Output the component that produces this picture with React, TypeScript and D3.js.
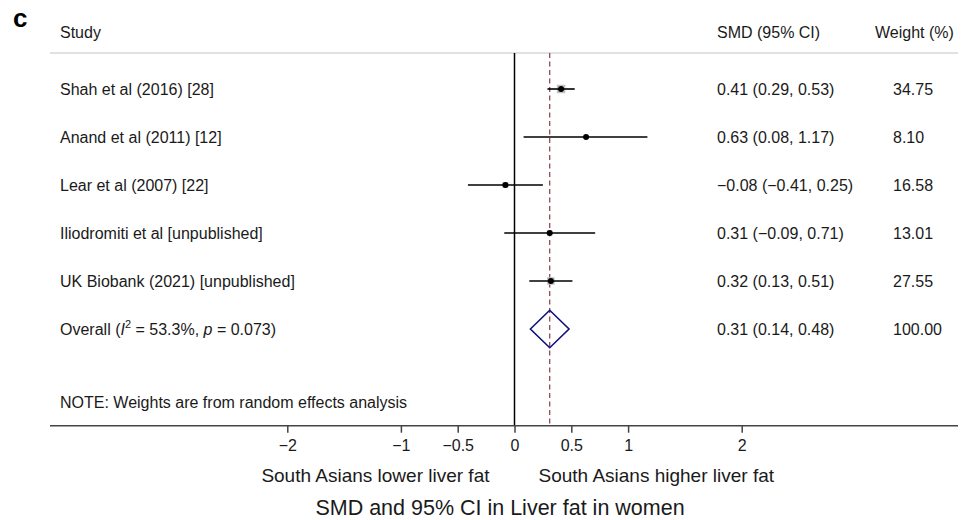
import React, { useEffect, useRef } from 'react'
import * as d3 from 'd3'

const W = 972
const H = 520

const studies = [
  'Shah et al (2016) [28]',
  'Anand et al (2011) [12]',
  'Lear et al (2007) [22]',
  'Iliodromiti et al [unpublished]',
  'UK Biobank (2021) [unpublished]'
]
const smd = [0.41, 0.63, -0.08, 0.31, 0.32]
const ciLow = [0.29, 0.08, -0.41, -0.09, 0.13]
const ciHigh = [0.53, 1.17, 0.25, 0.71, 0.51]
const weights = [34.75, 8.1, 16.58, 13.01, 27.55]
const smdLabels = [
  '0.41 (0.29, 0.53)',
  '0.63 (0.08, 1.17)',
  '\u22120.08 (\u22120.41, 0.25)',
  '0.31 (\u22120.09, 0.71)',
  '0.32 (0.13, 0.51)'
]
const weightLabels = ['34.75', '8.10', '16.58', '13.01', '27.55']

const overallSmd = 0.31
const overallLow = 0.14
const overallHigh = 0.48
const overallSmdLabel = '0.31 (0.14, 0.48)'
const overallWeightLabel = '100.00'

const tickValues = [-2, -1, -0.5, 0, 0.5, 1, 2]

const font = '"Liberation Sans", Arial, Helvetica, sans-serif'

export default function App() {
  const node = useRef<SVGSVGElement>(null)

  useEffect(() => {
    const svg = d3.select(node.current)
    svg.selectAll('*').remove()

    const x = d3.scaleLinear().domain([-2, 2]).range([287.3, 741.7])
    const y = d3.scaleLinear().domain([0, 5]).range([89, 329])
    const headerY = 32
    const topLine = 53
    const axisY = 425.7

    const g = svg.append('g').attr('font-family', font).attr('fill', '#1a1a1a')

    // panel letter
    g.append('text')
      .attr('x', 13).attr('y', 27)
      .attr('font-size', 26).attr('font-weight', 'bold')
      .attr('fill', '#000')
      .text('c')

    // headers
    const headers = [
      { t: 'Study', x: 60 },
      { t: 'SMD (95% CI)', x: 717 },
      { t: 'Weight (%)', x: 875 }
    ]
    g.selectAll('text.head')
      .data(headers)
      .join('text')
      .attr('class', 'head')
      .attr('x', d => d.x)
      .attr('y', headerY)
      .attr('dy', '0.35em')
      .attr('font-size', 16)
      .text(d => d.t)

    g.append('line')
      .attr('x1', 50).attr('x2', 958)
      .attr('y1', topLine).attr('y2', topLine)
      .attr('stroke', '#c4c4c4').attr('stroke-width', 1.2)

    // null line and overall line
    g.append('line')
      .attr('x1', x(0)).attr('x2', x(0))
      .attr('y1', topLine).attr('y2', axisY)
      .attr('stroke', '#000').attr('stroke-width', 1.5)

    g.append('line')
      .attr('x1', x(overallSmd)).attr('x2', x(overallSmd))
      .attr('y1', topLine).attr('y2', axisY)
      .attr('stroke', '#8b3a44').attr('stroke-width', 1.2)
      .attr('stroke-dasharray', '5,3.5')

    const rows = studies.map((s, i) => ({
      s, m: smd[i], lo: ciLow[i], hi: ciHigh[i], w: weights[i],
      ml: smdLabels[i], wl: weightLabels[i], i
    }))

    // study labels
    g.selectAll('text.study')
      .data(rows)
      .join('text')
      .attr('class', 'study')
      .attr('x', 60)
      .attr('y', d => y(d.i))
      .attr('dy', '0.35em')
      .attr('font-size', 16)
      .text(d => d.s)

    g.selectAll('text.smd')
      .data(rows)
      .join('text')
      .attr('class', 'smd')
      .attr('x', 717)
      .attr('y', d => y(d.i))
      .attr('dy', '0.35em')
      .attr('font-size', 16)
      .text(d => d.ml)

    g.selectAll('text.wt')
      .data(rows)
      .join('text')
      .attr('class', 'wt')
      .attr('x', 893)
      .attr('y', d => y(d.i))
      .attr('dy', '0.35em')
      .attr('font-size', 16)
      .text(d => d.wl)

    // weight boxes
    const box = d3.scaleSqrt().domain([0, 34.75]).range([0, 8.5])
    g.selectAll('rect.box')
      .data(rows)
      .join('rect')
      .attr('class', 'box')
      .attr('x', d => x(d.m) - box(d.w) / 2)
      .attr('y', d => y(d.i) - box(d.w) / 2)
      .attr('width', d => box(d.w))
      .attr('height', d => box(d.w))
      .attr('fill', '#c2c2c2')

    g.selectAll('line.ci')
      .data(rows)
      .join('line')
      .attr('class', 'ci')
      .attr('x1', d => x(d.lo)).attr('x2', d => x(d.hi))
      .attr('y1', d => y(d.i)).attr('y2', d => y(d.i))
      .attr('stroke', '#000').attr('stroke-width', 1.6)

    g.selectAll('circle.pt')
      .data(rows)
      .join('circle')
      .attr('class', 'pt')
      .attr('cx', d => x(d.m))
      .attr('cy', d => y(d.i))
      .attr('r', 3)
      .attr('fill', '#000')

    // overall
    const oy = y(5)
    const dh = 18.7
    g.append('path')
      .attr('d', `M${x(overallLow)},${oy} L${x(overallSmd)},${oy - dh} L${x(overallHigh)},${oy} L${x(overallSmd)},${oy + dh} Z`)
      .attr('fill', 'none')
      .attr('stroke', '#10107a')
      .attr('stroke-width', 1.6)

    const ov = g.append('text')
      .attr('x', 60).attr('y', oy).attr('dy', '0.35em')
      .attr('font-size', 16)
    ov.append('tspan').text('Overall (')
    ov.append('tspan').attr('font-style', 'italic').text('I')
    ov.append('tspan').attr('font-size', 11).attr('dy', '-0.6em').text('2')
    ov.append('tspan').attr('dy', '0.42em').text(' = 53.3%, ')
    ov.append('tspan').attr('font-style', 'italic').text('p')
    ov.append('tspan').text(' = 0.073)')

    g.append('text')
      .attr('x', 717).attr('y', oy).attr('dy', '0.35em')
      .attr('font-size', 16).text(overallSmdLabel)
    g.append('text')
      .attr('x', 893).attr('y', oy).attr('dy', '0.35em')
      .attr('font-size', 16).text(overallWeightLabel)

    g.append('text')
      .attr('x', 60).attr('y', 402).attr('dy', '0.35em')
      .attr('font-size', 16)
      .text('NOTE: Weights are from random effects analysis')

    // axis
    g.append('line')
      .attr('x1', 50).attr('x2', 958)
      .attr('y1', axisY).attr('y2', axisY)
      .attr('stroke', '#444').attr('stroke-width', 1.6)

    const ax = g.append('g')
      .attr('transform', `translate(0,${axisY})`)
      .call(d3.axisBottom(x)
        .tickValues(tickValues)
        .tickFormat(d3.format('~g'))
        .tickSize(7)
        .tickPadding(7))
    ax.select('.domain').remove()
    ax.selectAll('.tick line').attr('stroke', '#444').attr('stroke-width', 1.5)
    ax.selectAll('.tick text')
      .attr('font-family', font)
      .attr('font-size', 16)
      .attr('fill', '#1a1a1a')

    g.append('text')
      .attr('x', x(0) - 25).attr('y', 481.5)
      .attr('text-anchor', 'end')
      .attr('font-size', 19)
      .text('South Asians lower liver fat')
    g.append('text')
      .attr('x', x(0) + 24).attr('y', 481.5)
      .attr('text-anchor', 'start')
      .attr('font-size', 19)
      .text('South Asians higher liver fat')

    g.append('text')
      .attr('x', 500).attr('y', 515)
      .attr('text-anchor', 'middle')
      .attr('font-size', 21.5)
      .text('SMD and 95% CI in Liver fat in women')
  }, [])

  return (
    <svg
      ref={node}
      width={W}
      height={H}
      viewBox={`0 0 ${W} ${H}`}
      style={{ position: 'absolute', left: 0, top: 0, background: '#fff', display: 'block' }}
    />
  )
}
